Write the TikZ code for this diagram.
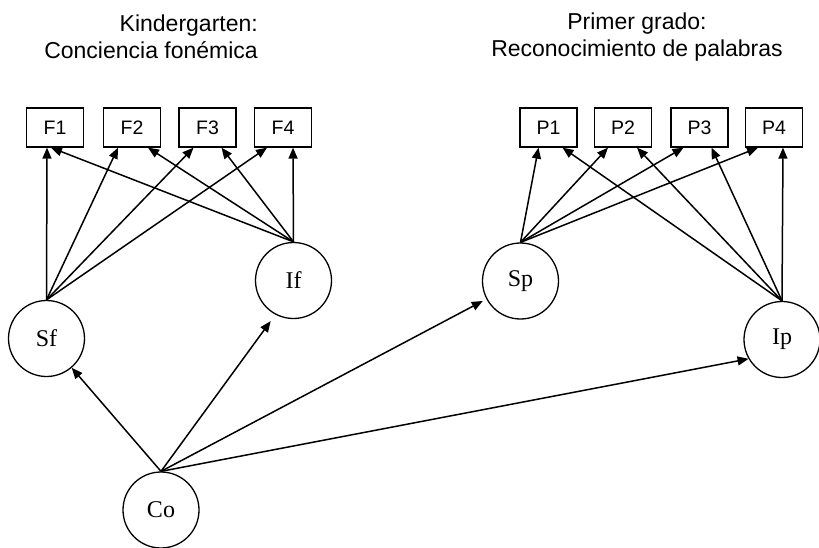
\documentclass[tikz,border=0pt]{standalone}
\usepackage{fontspec}
\setmainfont{Liberation Serif}
\newfontfamily\arialf{Liberation Sans}
\usetikzlibrary{arrows.meta}
\tikzset{
  obs/.style={draw, line width=1.3pt, minimum width=57pt, minimum height=39pt, inner sep=0pt,
    font=\arialf\fontsize{19.5}{21}\selectfont},
  lat/.style={draw, line width=1.3pt, circle, minimum size=76pt, inner sep=0pt,
    font=\fontsize{24}{26}\selectfont},
  title/.style={font=\arialf\fontsize{23}{27.5}\selectfont, inner sep=0pt},
  arr/.style={line width=1.5pt, -{Triangle[length=11pt,width=9pt]}}
}
\begin{document}
\begin{tikzpicture}[x=1pt,y=-1pt]
\useasboundingbox (0,0) rectangle (819,547);
\node[title, align=right, anchor=east] (t1) at (258,37) {Kindergarten:\\Conciencia fonémica};
\node[title, align=center] (t2) at (637,37) {Primer grado:\\Reconocimiento de palabras};

\node[obs] (F1) at (55,127.5) {F1};
\node[obs] (F2) at (132,127.5) {F2};
\node[obs] (F3) at (207.5,127.5) {F3};
\node[obs] (F4) at (283,127.5) {F4};
\node[obs] (P1) at (548.5,127.5) {P1};
\node[obs] (P2) at (623,127.5) {P2};
\node[obs] (P3) at (699.5,127.5) {P3};
\node[obs] (P4) at (774,127.5) {P4};

\node[lat] (Sf) at (46.5,338.5) {Sf};
\node[lat] (If) at (293.5,280.5) {If};
\node[lat] (Sp) at (520.5,281) {Sp};
\node[lat] (Ip) at (782,339.5) {Ip};
\node[lat] (Co) at (161,510) {Co};

% Sf loadings
\draw[arr] (Sf.north) -- ([xshift=-8pt]F1.south);
\draw[arr] (Sf.north) -- ([xshift=-14pt]F2.south);
\draw[arr] (Sf.north) -- ([xshift=-14pt]F3.south);
\draw[arr] (Sf.north) -- ([xshift=-16pt]F4.south);
% If loadings
\draw[arr] (If.north) -- ([xshift=-4pt]F1.south);
\draw[arr] (If.north) -- ([xshift=16pt]F2.south);
\draw[arr] (If.north) -- ([xshift=14pt]F3.south);
\draw[arr] (If.north) -- ([xshift=10pt]F4.south);
% Sp loadings
\draw[arr] (Sp.north) -- ([xshift=-10pt]P1.south);
\draw[arr] (Sp.north) -- ([xshift=-15pt]P2.south);
\draw[arr] (Sp.north) -- ([xshift=-16pt]P3.south);
\draw[arr] (Sp.north) -- ([xshift=-16pt]P4.south);
% Ip loadings
\draw[arr] (Ip.north) -- ([xshift=14pt]P1.south);
\draw[arr] (Ip.north) -- ([xshift=14pt]P2.south);
\draw[arr] (Ip.north) -- ([xshift=12pt]P3.south);
\draw[arr] (Ip.north) -- ([xshift=9pt]P4.south);

% Co paths
\draw[arr] (Co.north) -- (Sf);
\draw[arr, shorten >=8pt] (Co.north) -- (If.242);
\draw[arr, shorten >=4pt] (Co.north) -- (Sp);
\draw[arr] (Co.north) -- (Ip.210);
\end{tikzpicture}
\end{document}
